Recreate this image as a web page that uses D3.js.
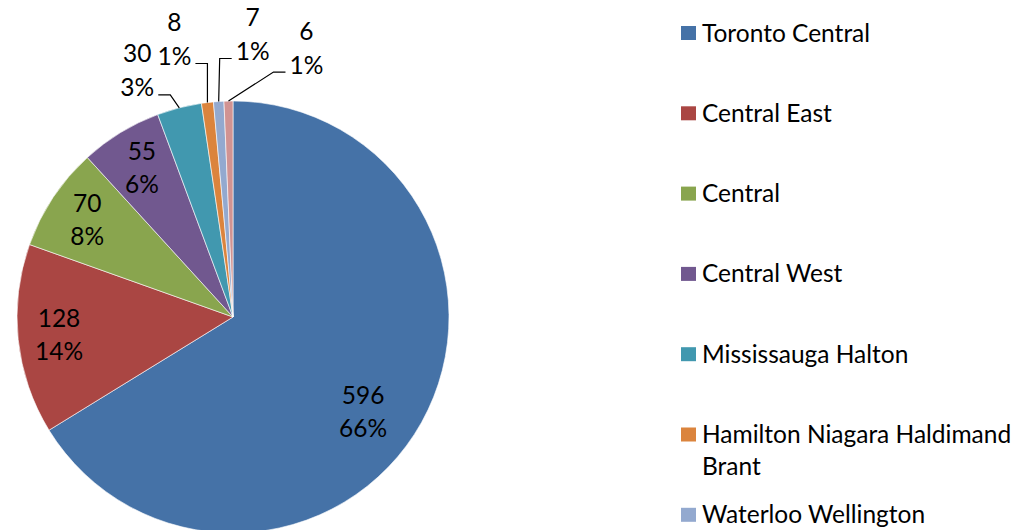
<!DOCTYPE html>
<html>
<head>
<meta charset="utf-8">
<script src="https://cdn.jsdelivr.net/npm/d3@7"></script>
<style>
  html, body { margin: 0; padding: 0; background: #fff; }
  svg { display: block; }
  text { font-family: Lato, "Open Sans", sans-serif; fill: #000; }
</style>
</head>
<body>
<svg id="chart" width="1015" height="530"></svg>
<script>
// regions and patient counts, in legend order
var regions = ["Toronto Central", "Central East", "Central", "Central West",
  "Mississauga Halton", "Hamilton Niagara Haldimand Brant", "Waterloo Wellington",
  "North Simcoe Muskoka"];
var counts = [596, 128, 70, 55, 30, 8, 7, 6];
var percentLabels = ["66%", "14%", "8%", "6%", "3%", "1%", "1%", "1%"];

var colors = ["#4572a7", "#aa4643", "#89a54e", "#71588f",
  "#4198af", "#db843d", "#93a9cf", "#d19392"];

// callout elbows for the thin slices: [dx, dy] from the slice edge, then side (-1 left, 1 right)
var callouts = {
  "Mississauga Halton": [-9, -13, -1],
  "Hamilton Niagara Haldimand Brant": [0, -39, -1],
  "Waterloo Wellington": [1, -43, 1],
  "North Simcoe Muskoka": [45, -29, 1]
};

var svg = d3.select("#chart"),
    cx = 233, cy = 317, radius = 216;

var data = regions.map(function(r, i) { return {name: r, value: counts[i], pct: percentLabels[i]}; });

var pie = d3.pie().sort(null).value(function(d) { return d.value; });
var arc = d3.arc().innerRadius(0).outerRadius(radius);
var color = d3.scaleOrdinal().domain(regions).range(colors);

var g = svg.append("g").attr("transform", "translate(" + cx + "," + cy + ")");
var arcs = pie(data);

g.selectAll("path.slice")
  .data(arcs)
  .enter().append("path")
  .attr("class", "slice")
  .attr("d", arc)
  .style("fill", function(d) { return color(d.data.name); })
  .style("stroke", "#fff")
  .style("stroke-width", 0.6);

var fontSize = 24.5, lineGap = 33;

// inside labels (excel's best fit nudges the big one round a bit)
arcs.forEach(function(d) {
  if (callouts[d.data.name]) return;
  var a = (d.startAngle + d.endAngle) / 2 + (d.index === 0 ? 0.12 : 0);
  var lr = d.index === 0 ? radius * 0.745 : radius * 0.81;
  var c = [Math.sin(a) * lr, -Math.cos(a) * lr];
  var t = g.append("text")
    .attr("text-anchor", "middle")
    .style("font-size", fontSize + "px");
  t.append("tspan").attr("x", c[0]).attr("y", c[1] - lineGap / 2).attr("dy", "0.35em").text(d.data.value);
  t.append("tspan").attr("x", c[0]).attr("y", c[1] + lineGap / 2).attr("dy", "0.35em").text(d.data.pct);
});

// callout labels for small slices
arcs.forEach(function(d) {
  var co = callouts[d.data.name];
  if (!co) return;
  var a = (d.startAngle + d.endAngle) / 2;
  var p0 = [Math.sin(a) * radius, -Math.cos(a) * radius];
  var p1 = [p0[0] + co[0], p0[1] + co[1]];
  var p2 = [p1[0] + co[2] * 12, p1[1]];
  g.append("path")
    .attr("d", d3.line()([p0, p1, p2]))
    .style("fill", "none")
    .style("stroke", "#000")
    .style("stroke-width", 1.2);
  var tx = p2[0] + co[2] * 21;
  var t = g.append("text")
    .attr("text-anchor", "middle")
    .style("font-size", fontSize + "px");
  t.append("tspan").attr("x", tx).attr("y", p2[1] - 41).attr("dy", "0.35em").text(d.data.value);
  t.append("tspan").attr("x", tx).attr("y", p2[1] - 7).attr("dy", "0.35em").text(d.data.pct);
});

// legend
var legend = svg.append("g").attr("transform", "translate(681,33)");
var item = legend.selectAll("g.item")
  .data(regions)
  .enter().append("g")
  .attr("class", "item")
  .attr("transform", function(d, i) { return "translate(0," + (i * 80.3) + ")"; });

item.append("rect")
  .attr("x", 0).attr("y", -7)
  .attr("width", 15).attr("height", 14)
  .style("fill", function(d) { return color(d); });

item.append("text")
  .style("font-size", fontSize + "px")
  .each(function(d) {
    var el = d3.select(this), words = d.split(" "), line = [], lineNo = 0;
    var tspan = el.append("tspan").attr("x", 21).attr("y", 0).attr("dy", "0.35em");
    words.forEach(function(w) {
      line.push(w);
      tspan.text(line.join(" "));
      if (tspan.node().getComputedTextLength() > 330 && line.length > 1) {
        line.pop();
        tspan.text(line.join(" "));
        line = [w];
        lineNo++;
        tspan = el.append("tspan").attr("x", 21).attr("y", lineNo * 32).attr("dy", "0.35em").text(w);
      }
    });
  });
</script>
</body>
</html>
